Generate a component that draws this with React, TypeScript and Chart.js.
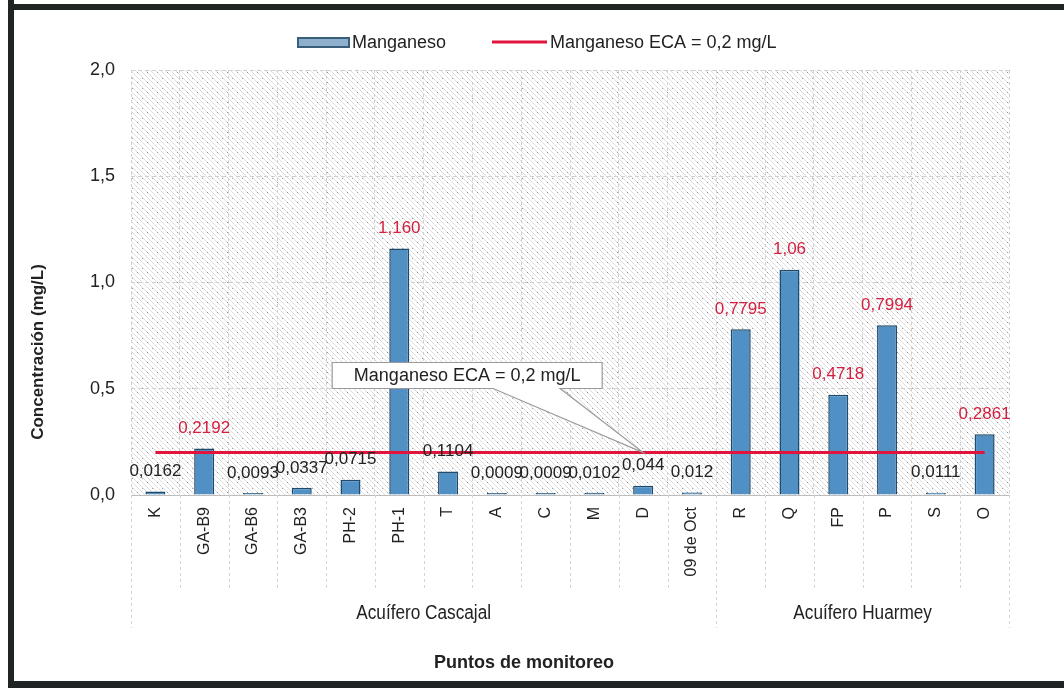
import React, { useEffect, useRef } from "react";
import { Chart, registerables } from "chart.js";

Chart.register(...registerables);

// ---------- data ----------
const categories = [
  "K", "GA-B9", "GA-B6", "GA-B3", "PH-2", "PH-1", "T", "A", "C", "M", "D",
  "09 de Oct", "R", "Q", "FP", "P", "S", "O",
];
const manganeso = [
  0.0162, 0.2192, 0.0093, 0.0337, 0.0715, 1.16, 0.1104, 0.0009, 0.0009, 0.0102,
  0.044, 0.012, 0.7795, 1.06, 0.4718, 0.7994, 0.0111, 0.2861,
];
const valueLabels = [
  "0,0162", "0,2192", "0,0093", "0,0337", "0,0715", "1,160", "0,1104", "0,0009",
  "0,0009", "0,0102", "0,044", "0,012", "0,7795", "1,06", "0,4718", "0,7994",
  "0,0111", "0,2861",
];
const ecaLimit = 0.2;
const ecaLine = categories.map(() => ecaLimit);
const groupLabels = ["Acuífero Cascajal", "Acuífero Huarmey"];
const groupStarts = [0, 12];
const groupEnds = [11, 17];
const calloutIndex = 10;
const barLabel = "Manganeso";
const lineLabel = "Manganeso ECA = 0,2 mg/L";
const yTitle = "Concentración (mg/L)";
const xTitle = "Puntos de monitoreo";

const SANS = "'Liberation Sans', Arial, sans-serif";

function makePattern(ctx: CanvasRenderingContext2D) {
  const c = document.createElement("canvas");
  c.width = 10;
  c.height = 10;
  const g = c.getContext("2d")!;
  g.fillStyle = "#ffffff";
  g.fillRect(0, 0, 10, 10);
  g.strokeStyle = "rgba(0,0,0,0.13)";
  g.lineWidth = 1;
  for (let k = -10; k <= 10; k += 5) {
    g.beginPath();
    g.moveTo(k, 0);
    g.lineTo(k + 10, 10);
    g.stroke();
  }
  g.fillStyle = "rgba(0,0,0,0.35)";
  g.fillRect(7, 2, 1, 1);
  g.fillRect(2, 8, 1, 1);
  return ctx.createPattern(c, "repeat")!;
}

const decorPlugin = {
  id: "decor",
  beforeDraw(chart: any) {
    const { ctx, chartArea: a } = chart;
    ctx.save();
    ctx.fillStyle = "#ffffff";
    ctx.fillRect(0, 0, chart.width, chart.height);
    ctx.fillStyle = makePattern(ctx);
    ctx.fillRect(a.left, a.top, a.right - a.left, a.bottom - a.top);
    ctx.restore();
  },
  afterDatasetsDraw(chart: any) {
    const { ctx } = chart;
    const meta = chart.getDatasetMeta(1);
    ctx.save();
    ctx.font = `17px ${SANS}`;
    ctx.textAlign = "center";
    ctx.textBaseline = "middle";
    meta.data.forEach((el: any, i: number) => {
      ctx.fillStyle = manganeso[i] > ecaLimit ? "#d51f3f" : "#222222";
      ctx.fillText(valueLabels[i], el.x, el.y - 20);
    });
    ctx.restore();
  },
  afterDraw(chart: any) {
    const { ctx, chartArea: a, scales } = chart;
    const xs = scales.x;
    const ys = scales.y;
    const n = categories.length;
    const step = (a.right - a.left) / n;
    ctx.save();

    // grid extensions below axis
    ctx.strokeStyle = "#d4d4d4";
    ctx.lineWidth = 1;
    ctx.setLineDash([3, 3]);
    for (let i = 0; i <= n; i++) {
      const x = Math.round(a.left + i * step) + 0.5;
      const isDiv = i === 0 || i === n || groupStarts.includes(i);
      ctx.beginPath();
      ctx.moveTo(x, a.bottom);
      ctx.lineTo(x, isDiv ? 628 : 590);
      ctx.stroke();
    }
    ctx.setLineDash([]);

    // group labels
    ctx.fillStyle = "#222222";
    ctx.textAlign = "center";
    ctx.textBaseline = "middle";
    groupLabels.forEach((lab, gi) => {
      const cx = (xs.getPixelForValue(groupStarts[gi]) + xs.getPixelForValue(groupEnds[gi])) / 2;
      ctx.save();
      ctx.translate(cx, 613);
      ctx.scale(0.86, 1);
      ctx.font = `20px ${SANS}`;
      ctx.fillText(lab, 0, 0);
      ctx.restore();
    });

    // axis titles
    ctx.font = `bold 18px ${SANS}`;
    ctx.fillText(xTitle, 524, 663);
    ctx.save();
    ctx.translate(38, 352);
    ctx.rotate(-Math.PI / 2);
    ctx.font = `bold 17px ${SANS}`;
    ctx.fillText(yTitle, 0, 0);
    ctx.restore();

    // callout pointing to the ECA line
    const ax = xs.getPixelForValue(calloutIndex);
    const ay = ys.getPixelForValue(ecaLimit);
    const l = ax - 311, r = ax - 41, t = ay - 90, b = ay - 64;
    ctx.beginPath();
    ctx.moveTo(l, t);
    ctx.lineTo(r, t);
    ctx.lineTo(r, b);
    ctx.lineTo(ax - 83, b);
    ctx.lineTo(ax, ay);
    ctx.lineTo(ax - 150, b);
    ctx.lineTo(l, b);
    ctx.closePath();
    ctx.fillStyle = "#ffffff";
    ctx.fill();
    ctx.strokeStyle = "#9a9a9a";
    ctx.lineWidth = 1.2;
    ctx.stroke();
    ctx.fillStyle = "#222222";
    ctx.font = `18px ${SANS}`;
    ctx.fillText(lineLabel, (l + r) / 2, (t + b) / 2 + 1);

    // legend
    ctx.fillStyle = "#8fb0cc";
    ctx.fillRect(298, 38, 51, 9);
    ctx.strokeStyle = "#3a5f7a";
    ctx.lineWidth = 2;
    ctx.strokeRect(298, 38, 51, 9);
    ctx.fillStyle = "#222222";
    ctx.textAlign = "left";
    ctx.font = `18px ${SANS}`;
    ctx.fillText(barLabel, 352, 43);
    ctx.strokeStyle = "#e0143c";
    ctx.lineWidth = 3;
    ctx.beginPath();
    ctx.moveTo(492, 42);
    ctx.lineTo(547, 42);
    ctx.stroke();
    ctx.fillText(lineLabel, 550, 43);

    // frame
    ctx.fillStyle = "#1f2424";
    ctx.fillRect(8, 0, 6, chart.height);
    ctx.fillRect(8, 4, chart.width - 8, 6);
    ctx.fillRect(8, chart.height - 7, chart.width - 8, 7);
    ctx.restore();
  },
};

export default function App() {
  const ref = useRef<HTMLCanvasElement>(null);
  useEffect(() => {
    const canvas = ref.current!;
    const chart = new Chart(canvas, {
      type: "bar",
      data: {
        labels: categories,
        datasets: [
          {
            type: "line",
            label: lineLabel,
            data: ecaLine,
            borderColor: "#e0143c",
            backgroundColor: "#e0143c",
            borderWidth: 3,
            pointRadius: 0,
            order: 0,
          } as any,
          {
            type: "bar",
            label: barLabel,
            data: manganeso,
            backgroundColor: "#5190c4",
            borderColor: "#1f4a6a",
            borderWidth: 1.5,
            barPercentage: 0.82,
            categoryPercentage: 0.5,
            minBarLength: 2,
            order: 1,
          },
        ],
      },
      options: {
        responsive: false,
        animation: false,
        devicePixelRatio: 1,
        layout: { padding: { left: 0, right: 55, top: 70, bottom: 0 } },
        plugins: {
          legend: { display: false },
          tooltip: { enabled: false },
        },
        scales: {
          x: {
            grid: { color: "#cfcfcf", drawTicks: false, offset: true },
            border: { color: "#bdbdbd", dash: [3, 3] },
            ticks: {
              color: "#222222",
              font: { size: 16, family: SANS },
              minRotation: 90,
              maxRotation: 90,
              autoSkip: false,
              padding: 12,
            },
            afterFit: (s: any) => {
              s.height = 193;
            },
          },
          y: {
            min: 0,
            max: 2,
            grid: { color: "#cfcfcf", drawTicks: false },
            border: { display: false, dash: [4, 3] },
            ticks: {
              stepSize: 0.5,
              color: "#222222",
              font: { size: 18, family: SANS },
              padding: 16,
              callback: (v: any) => Number(v).toFixed(1).replace(".", ","),
            },
            afterFit: (s: any) => {
              s.width = 131;
            },
          },
        },
      },
      plugins: [decorPlugin],
    });
    return () => chart.destroy();
  }, []);
  return (
    <div style={{ position: "fixed", left: 0, top: 0, width: 1064, height: 688, background: "#fff" }}>
      <canvas ref={ref} width={1064} height={688} style={{ display: "block" }} />
    </div>
  );
}
